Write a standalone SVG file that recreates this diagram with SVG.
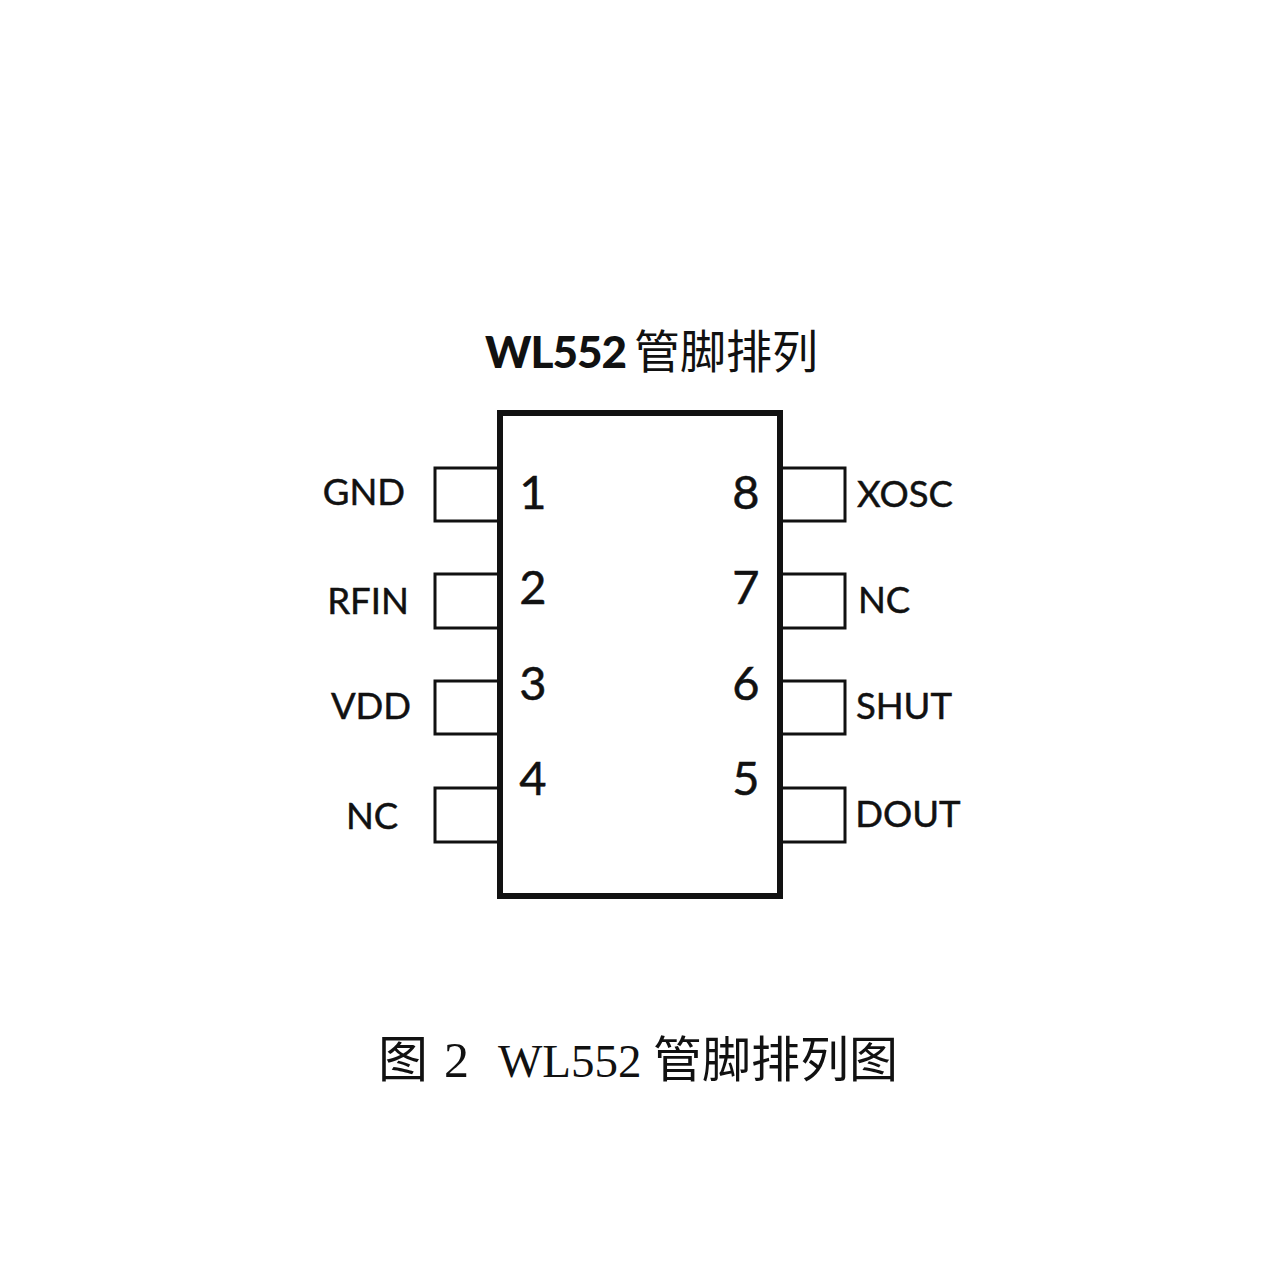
<svg xmlns="http://www.w3.org/2000/svg" width="1280" height="1280" viewBox="0 0 1280 1280">
<style>
.s{font-family:"Lato","Noto Sans CJK SC",sans-serif;fill:#111;stroke:#111;stroke-width:.5}
.l{font-size:36.5px}
.n{font-size:47px}
.p{fill:#fff;stroke:#111;stroke-width:3}
.t{font-family:"Liberation Serif","Noto Sans CJK SC",serif;fill:#111}
.c{font-family:"Noto Sans CJK SC",sans-serif;fill:#111}
</style>
<rect width="1280" height="1280" fill="#fff"/>
<g id="title"><text font-family="Lato,sans-serif" fill="#111" x="485" y="368" font-size="44" font-weight="900" letter-spacing="-1">WL552</text>
<text class="c" x="634" y="368" font-size="46">管脚排列</text></g>
<g id="pin-boxes">
<rect class="p" x="435" y="468" width="65" height="53"/><rect class="p" x="435" y="574" width="65" height="54"/><rect class="p" x="435" y="681" width="65" height="53"/><rect class="p" x="435" y="788" width="65" height="54"/>
<rect class="p" x="780" y="468" width="65" height="53"/><rect class="p" x="780" y="574" width="65" height="54"/><rect class="p" x="780" y="681" width="65" height="53"/><rect class="p" x="780" y="788" width="65" height="54"/>
</g>
<g id="chip"><rect x="500" y="413" width="280" height="483" fill="#fff" stroke="#111" stroke-width="6"/></g>
<g id="pin1"><text class="s n" x="533" y="509" text-anchor="middle">1</text><text class="s l" x="364" y="505" text-anchor="middle">GND</text></g>
<g id="pin2"><text class="s n" x="533" y="604" text-anchor="middle">2</text><text class="s l" x="368" y="614" text-anchor="middle">RFIN</text></g>
<g id="pin3"><text class="s n" x="533" y="700" text-anchor="middle">3</text><text class="s l" x="371" y="719" text-anchor="middle">VDD</text></g>
<g id="pin4"><text class="s n" x="533" y="795" text-anchor="middle">4</text><text class="s l" x="372" y="829" text-anchor="middle">NC</text></g>
<g id="pin8"><text class="s n" x="746" y="509" text-anchor="middle">8</text><text class="s l" x="905" y="507" text-anchor="middle">XOSC</text></g>
<g id="pin7"><text class="s n" x="746" y="604" text-anchor="middle">7</text><text class="s l" x="884" y="613" text-anchor="middle">NC</text></g>
<g id="pin6"><text class="s n" x="746" y="700" text-anchor="middle">6</text><text class="s l" x="904" y="719" text-anchor="middle">SHUT</text></g>
<g id="pin5"><text class="s n" x="746" y="795" text-anchor="middle">5</text><text class="s l" x="908" y="827" text-anchor="middle">DOUT</text></g>
<g id="caption"><text class="t" x="378" y="1077" font-size="50">图</text>
<text class="t" x="444" y="1077" font-size="50">2</text>
<text class="t" x="498" y="1077" font-size="47">WL552</text>
<text class="t" x="653" y="1077" font-size="49">管脚排列图</text></g>
</svg>
